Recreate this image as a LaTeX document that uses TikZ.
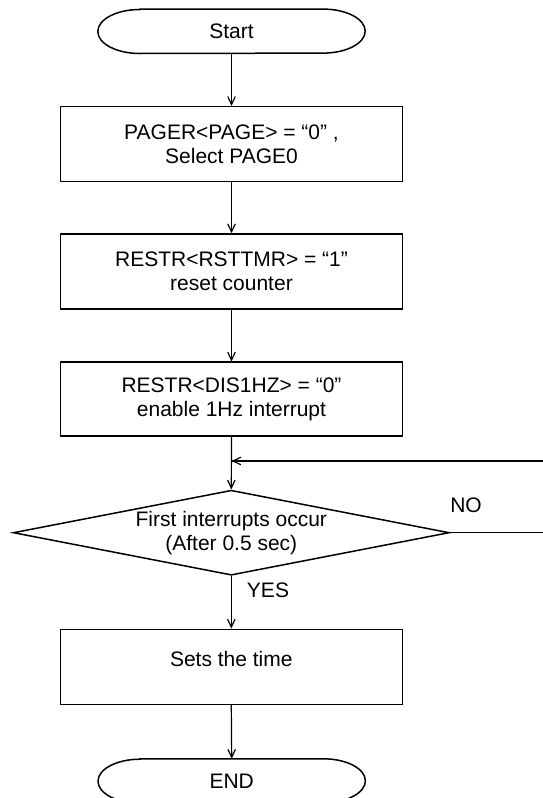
\documentclass[tikz,border=0pt]{standalone}
\usepackage{fontspec}
\setmainfont{Liberation Sans}
\usetikzlibrary{shapes.geometric,arrows.meta}
\tikzset{
  txt/.style={font=\fontsize{21pt}{24pt}\selectfont, align=center, inner sep=0pt},
  procbox/.style={txt, draw, line width=1.5pt, rectangle, minimum width=342pt},
  termbox/.style={txt, rectangle, minimum width=267pt, minimum height=44pt},
  decbox/.style={txt, draw, line width=1.5pt, shape=diamond, aspect=5.13, minimum width=436pt, minimum height=85pt},
  flow/.style={line width=1.2pt, -{Straight Barb[length=8pt,width=7.5pt,line width=1.2pt]}},
  plainline/.style={line width=1.2pt}
}
\newcommand{\terminal}[1]{%
  \draw[line width=1.5pt] ([xshift=42pt]#1.north west) -- ([xshift=-42pt]#1.north east)
    arc[start angle=90, end angle=-90, x radius=42pt, y radius=22pt]
    -- ([xshift=42pt]#1.south west)
    arc[start angle=270, end angle=90, x radius=42pt, y radius=22pt] -- cycle;}
\begin{document}
\begin{tikzpicture}[x=1pt,y=-1pt]
\useasboundingbox (0,0) rectangle (542,798);
\node[termbox] (start) at (231.5,31.3) {Start};
\terminal{start}
\node[procbox, minimum height=75pt] (b1) at (231.5,144.2) {PAGER<PAGE> = “0” ,\\Select PAGE0};
\node[procbox, minimum height=75pt] (b2) at (231.5,271.5) {RESTR<RSTTMR> = “1”\\reset counter};
\node[procbox, minimum height=74pt] (b3) at (231.5,399.2) {RESTR<DIS1HZ> = “0”\\enable 1Hz interrupt};
\node[decbox] (dec) at (231.3,532.7) {First interrupts occur\\(After 0.5 sec)};
\node[procbox, minimum height=75pt] (b4) at (231.3,666.8) {};
\node[txt, anchor=base] (t4) at (231.3,666.7) {Sets the time};
\node[termbox] (end) at (231.7,781) {END};
\terminal{end}
\node[txt] (no) at (466,505.7) {NO};
\node[txt] (yes) at (268,590) {YES};
\coordinate (fb) at (231.5,461);
\coordinate (r1) at (547,532.7);
\coordinate (r2) at (547,461);
\draw[flow] (start.south) -- (b1.north);
\draw[flow] (b1.south) -- (b2.north);
\draw[flow] (b2.south) -- (b3.north);
\draw[flow] (b3.south) -- (dec.north);
\draw[plainline] (dec.east) -- (r1) -- (r2) -- (fb);
\draw[flow] (r2) -- (fb);
\draw[flow] (dec.south) -- (b4.north);
\draw[flow] (b4.south) -- (end.north);
\end{tikzpicture}
\end{document}
